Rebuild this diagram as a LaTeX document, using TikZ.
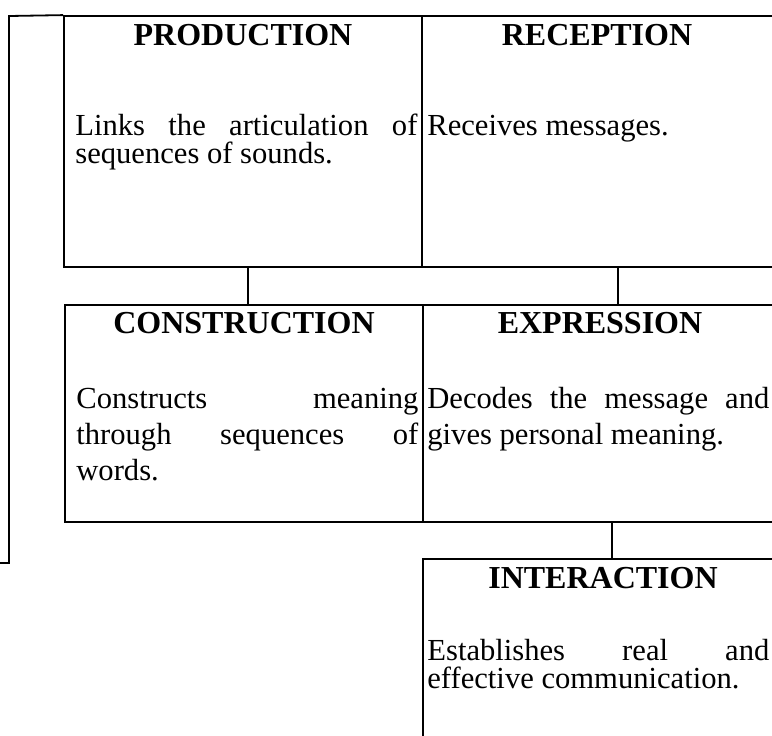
\documentclass[tikz,border=0pt]{standalone}
\usepackage{fontspec}
\setmainfont{Liberation Serif}
\usetikzlibrary{positioning, calc}

\begin{document}
\begin{tikzpicture}[x=0.5pt, y=-0.5pt,
    cell/.style={rectangle, draw, line width=0.9pt, inner sep=0pt, minimum width=179pt},
    head/.style={anchor=base, inner sep=0pt, font=\fontsize{16}{18}\selectfont\bfseries},
    body/.style={anchor=base west, inner sep=0pt, text width=171pt, align=justify, font=\fontsize{15.3}{14}\selectfont},
    widebody/.style={body, font=\fontsize{15.3}{18}\selectfont},
    link/.style={line width=0.9pt}
]
    \useasboundingbox (0,0) rectangle (772,735);

    % === ROW 1 : production / reception ===
    \node[cell, minimum height=125.5pt] (prod) at (243,141.5) {};
    \node[cell, minimum height=125.5pt] (recep) at (601,141.5) {};
    \node[head] (prodhead) at (243,45) {PRODUCTION};
    \node[head] (recephead) at (597,45) {RECEPTION};
    \node[body] (prodtext) at (75,135) {Links the articulation of\linebreak sequences of sounds.};
    \node[body] (receptext) at (427,135) {Receives messages.};

    % === ROW 2 : construction / expression ===
    \node[cell, minimum height=108.5pt] (cons) at (244,413.5) {};
    \node[cell, minimum height=108.5pt, minimum width=178.5pt] (expr) at (601.5,413.5) {};
    \node[head] (conshead) at (244,333) {CONSTRUCTION};
    \node[head] (exprhead) at (600,333) {EXPRESSION};
    \node[widebody] (constext) at (76,408) {Constructs meaning\linebreak through sequences of\linebreak words.};
    \node[widebody] (exprtext) at (427,408) {Decodes the message and\linebreak gives personal meaning.};

    % === ROW 3 : interaction ===
    \node[cell, minimum height=100.5pt, minimum width=178.5pt] (inter) at (601.5,659.5) {};
    \node[head] (interhead) at (603,588) {INTERACTION};
    \node[body] (intertext) at (427,660) {Establishes real and\linebreak effective communication.};

    % === LINKS ===
    \coordinate (linkA) at (248,0);
    \coordinate (linkB) at (618,0);
    \coordinate (linkC) at (612,0);
    \draw[link] (linkA |- prod.south) -- (linkA |- cons.north);
    \draw[link] (linkB |- recep.south) -- (linkB |- expr.north);
    \draw[link] (linkC |- expr.south) -- (linkC |- inter.north);

    % === OUTER FRAME ===
    \coordinate (frametop) at (9,16);
    \coordinate (framebot) at (9,563);
    \coordinate (framefoot) at (0,563);
    \draw[link] (prod.north west) -- (frametop) -- (framebot) -- (framefoot);

\end{tikzpicture}
\end{document}
